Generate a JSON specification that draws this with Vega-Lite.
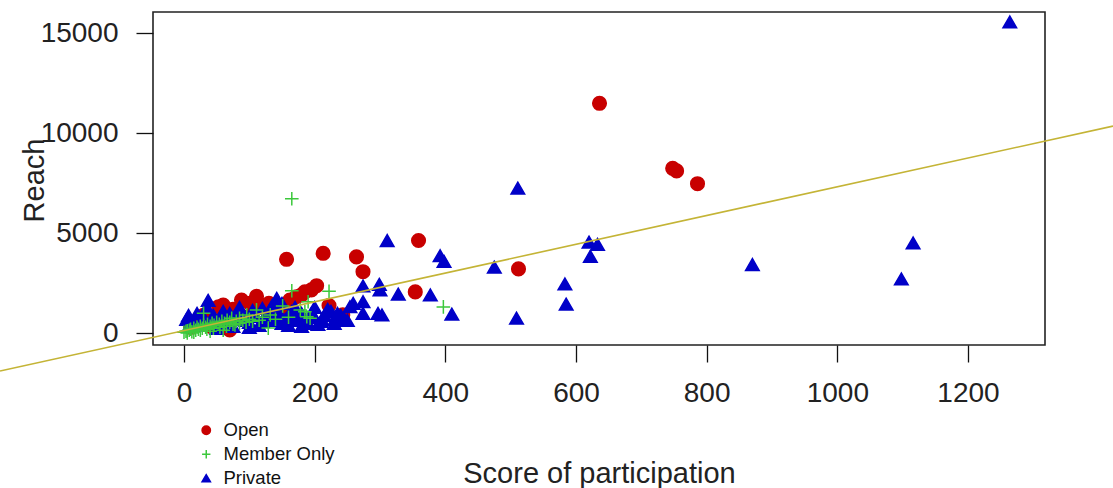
{
  "$schema": "https://vega.github.io/schema/vega-lite/v6.json",
  "autosize": {"type": "none"},
  "width": 892,
  "height": 333,
  "padding": {"left": 153, "top": 12, "right": 68, "bottom": 143},
  "background": "white",
  "config": {
    "view": {"stroke": "#222", "strokeWidth": 1.6},
    "font": "Liberation Sans",
    "axis": {
      "grid": false, "domain": false, "tickColor": "#111", "tickWidth": 1.3, "tickSize": 17,
      "labelFont": "Liberation Sans", "labelFontSize": 28, "labelColor": "#222", "labelPadding": 17,
      "titleFont": "Liberation Sans", "titleFontSize": 29, "titleFontWeight": "normal", "titleColor": "#222"
    },
    "legend": {
      "labelFont": "Liberation Sans", "labelFontSize": 18.5, "labelColor": "#111",
      "padding": 0, "rowPadding": 5, "labelOffset": 8, "symbolStrokeWidth": 1.5, "symbolSize": 70, "symbolOpacity": 1
    }
  },
  "datasets": {
    "pts": [
      {"Type": "Open", "score": 636, "reach": 11500},
      {"Type": "Open", "score": 748, "reach": 8250},
      {"Type": "Open", "score": 754, "reach": 8120},
      {"Type": "Open", "score": 786, "reach": 7480},
      {"Type": "Open", "score": 359, "reach": 4640},
      {"Type": "Open", "score": 213, "reach": 4000},
      {"Type": "Open", "score": 157, "reach": 3700},
      {"Type": "Open", "score": 264, "reach": 3820},
      {"Type": "Open", "score": 274, "reach": 3080},
      {"Type": "Open", "score": 512, "reach": 3220},
      {"Type": "Open", "score": 354, "reach": 2070},
      {"Type": "Open", "score": 203, "reach": 2380},
      {"Type": "Open", "score": 195, "reach": 2170},
      {"Type": "Open", "score": 185, "reach": 2070},
      {"Type": "Open", "score": 180, "reach": 1920},
      {"Type": "Open", "score": 172, "reach": 1830},
      {"Type": "Open", "score": 162, "reach": 1660},
      {"Type": "Open", "score": 222, "reach": 1390},
      {"Type": "Open", "score": 243, "reach": 920},
      {"Type": "Open", "score": 111, "reach": 1850},
      {"Type": "Open", "score": 101, "reach": 1500},
      {"Type": "Open", "score": 88, "reach": 1660},
      {"Type": "Open", "score": 60, "reach": 1410},
      {"Type": "Open", "score": 53, "reach": 1330},
      {"Type": "Open", "score": 130, "reach": 1500},
      {"Type": "Open", "score": 145, "reach": 1300},
      {"Type": "Open", "score": 120, "reach": 1400},
      {"Type": "Open", "score": 75, "reach": 1200},
      {"Type": "Open", "score": 42, "reach": 330},
      {"Type": "Open", "score": 70, "reach": 170},
      {"Type": "Open", "score": 30, "reach": 900},
      {"Type": "Open", "score": 20, "reach": 600},
      {"Type": "Open", "score": 10, "reach": 300},
      {"Type": "Open", "score": 95, "reach": 800},
      {"Type": "Open", "score": 150, "reach": 1100},
      {"Type": "Open", "score": 45, "reach": 500},
      {"Type": "Private", "score": 1264, "reach": 15570},
      {"Type": "Private", "score": 511, "reach": 7260},
      {"Type": "Private", "score": 311, "reach": 4640},
      {"Type": "Private", "score": 392, "reach": 3880},
      {"Type": "Private", "score": 398, "reach": 3600},
      {"Type": "Private", "score": 475, "reach": 3310},
      {"Type": "Private", "score": 620, "reach": 4560},
      {"Type": "Private", "score": 633, "reach": 4450},
      {"Type": "Private", "score": 622, "reach": 3850},
      {"Type": "Private", "score": 870, "reach": 3440},
      {"Type": "Private", "score": 1116, "reach": 4520},
      {"Type": "Private", "score": 1098, "reach": 2720},
      {"Type": "Private", "score": 583, "reach": 2470},
      {"Type": "Private", "score": 585, "reach": 1460},
      {"Type": "Private", "score": 509, "reach": 760},
      {"Type": "Private", "score": 410, "reach": 960},
      {"Type": "Private", "score": 377, "reach": 1920},
      {"Type": "Private", "score": 328, "reach": 1960},
      {"Type": "Private", "score": 299, "reach": 2450},
      {"Type": "Private", "score": 274, "reach": 2370},
      {"Type": "Private", "score": 300, "reach": 2170},
      {"Type": "Private", "score": 274, "reach": 1580},
      {"Type": "Private", "score": 259, "reach": 1500},
      {"Type": "Private", "score": 254, "reach": 1330},
      {"Type": "Private", "score": 274, "reach": 1000},
      {"Type": "Private", "score": 297, "reach": 1000},
      {"Type": "Private", "score": 303, "reach": 920},
      {"Type": "Private", "score": 231, "reach": 700},
      {"Type": "Private", "score": 211, "reach": 700},
      {"Type": "Private", "score": 37, "reach": 1650},
      {"Type": "Private", "score": 7, "reach": 900},
      {"Type": "Private", "score": 142, "reach": 1750},
      {"Type": "Private", "score": 4, "reach": 700},
      {"Type": "Private", "score": 15, "reach": 400},
      {"Type": "Private", "score": 25, "reach": 600},
      {"Type": "Private", "score": 40, "reach": 500},
      {"Type": "Private", "score": 55, "reach": 800},
      {"Type": "Private", "score": 65, "reach": 450},
      {"Type": "Private", "score": 80, "reach": 700},
      {"Type": "Private", "score": 90, "reach": 1000},
      {"Type": "Private", "score": 100, "reach": 550},
      {"Type": "Private", "score": 110, "reach": 850},
      {"Type": "Private", "score": 120, "reach": 600},
      {"Type": "Private", "score": 130, "reach": 1100},
      {"Type": "Private", "score": 140, "reach": 800},
      {"Type": "Private", "score": 150, "reach": 500},
      {"Type": "Private", "score": 160, "reach": 900},
      {"Type": "Private", "score": 170, "reach": 650},
      {"Type": "Private", "score": 180, "reach": 1000},
      {"Type": "Private", "score": 190, "reach": 500},
      {"Type": "Private", "score": 200, "reach": 800},
      {"Type": "Private", "score": 210, "reach": 600},
      {"Type": "Private", "score": 225, "reach": 1100},
      {"Type": "Private", "score": 240, "reach": 900},
      {"Type": "Private", "score": 250, "reach": 650},
      {"Type": "Private", "score": 170, "reach": 1300},
      {"Type": "Private", "score": 120, "reach": 1250},
      {"Type": "Private", "score": 60, "reach": 1100},
      {"Type": "Private", "score": 200, "reach": 1300},
      {"Type": "Private", "score": 160, "reach": 400},
      {"Type": "Private", "score": 100, "reach": 300},
      {"Type": "Private", "score": 50, "reach": 250},
      {"Type": "Private", "score": 180, "reach": 350},
      {"Type": "Private", "score": 230, "reach": 500},
      {"Type": "Private", "score": 20, "reach": 1000},
      {"Type": "Private", "score": 35, "reach": 1300},
      {"Type": "Private", "score": 45, "reach": 900},
      {"Type": "Private", "score": 70, "reach": 1000},
      {"Type": "Private", "score": 85, "reach": 1300},
      {"Type": "Private", "score": 95, "reach": 650},
      {"Type": "Private", "score": 105, "reach": 1150},
      {"Type": "Private", "score": 115, "reach": 400},
      {"Type": "Private", "score": 135, "reach": 650},
      {"Type": "Private", "score": 145, "reach": 1050},
      {"Type": "Private", "score": 155, "reach": 700},
      {"Type": "Private", "score": 165, "reach": 1100},
      {"Type": "Private", "score": 175, "reach": 800},
      {"Type": "Private", "score": 185, "reach": 700},
      {"Type": "Private", "score": 195, "reach": 1000},
      {"Type": "Private", "score": 205, "reach": 450},
      {"Type": "Private", "score": 215, "reach": 900},
      {"Type": "Private", "score": 220, "reach": 1200},
      {"Type": "Private", "score": 235, "reach": 1000},
      {"Type": "Private", "score": 245, "reach": 750},
      {"Type": "Private", "score": 10, "reach": 500},
      {"Type": "Private", "score": 30, "reach": 800},
      {"Type": "Private", "score": 75, "reach": 350},
      {"Type": "Private", "score": 125, "reach": 900},
      {"Type": "Private", "score": 135, "reach": 1400},
      {"Type": "Private", "score": 150, "reach": 1500},
      {"Type": "Member Only", "score": 165, "reach": 6730},
      {"Type": "Member Only", "score": 397, "reach": 1320},
      {"Type": "Member Only", "score": 165, "reach": 2130},
      {"Type": "Member Only", "score": 222, "reach": 2100},
      {"Type": "Member Only", "score": 151, "reach": 1370},
      {"Type": "Member Only", "score": 132, "reach": 920},
      {"Type": "Member Only", "score": 129, "reach": 260},
      {"Type": "Member Only", "score": 178, "reach": 1170},
      {"Type": "Member Only", "score": 190, "reach": 1580},
      {"Type": "Member Only", "score": 185, "reach": 1080},
      {"Type": "Member Only", "score": 188, "reach": 830},
      {"Type": "Member Only", "score": 193, "reach": 750},
      {"Type": "Member Only", "score": 111, "reach": 1170},
      {"Type": "Member Only", "score": 96, "reach": 920},
      {"Type": "Member Only", "score": 78, "reach": 420},
      {"Type": "Member Only", "score": 73, "reach": 750},
      {"Type": "Member Only", "score": 30, "reach": 1000},
      {"Type": "Member Only", "score": 0, "reach": 50},
      {"Type": "Member Only", "score": 3, "reach": 100},
      {"Type": "Member Only", "score": 5, "reach": 20},
      {"Type": "Member Only", "score": 8, "reach": 150},
      {"Type": "Member Only", "score": 10, "reach": 200},
      {"Type": "Member Only", "score": 12, "reach": 80},
      {"Type": "Member Only", "score": 15, "reach": 250},
      {"Type": "Member Only", "score": 18, "reach": 150},
      {"Type": "Member Only", "score": 20, "reach": 300},
      {"Type": "Member Only", "score": 22, "reach": 200},
      {"Type": "Member Only", "score": 25, "reach": 350},
      {"Type": "Member Only", "score": 28, "reach": 250},
      {"Type": "Member Only", "score": 30, "reach": 400},
      {"Type": "Member Only", "score": 33, "reach": 300},
      {"Type": "Member Only", "score": 36, "reach": 450},
      {"Type": "Member Only", "score": 40, "reach": 350},
      {"Type": "Member Only", "score": 43, "reach": 500},
      {"Type": "Member Only", "score": 46, "reach": 400},
      {"Type": "Member Only", "score": 50, "reach": 550},
      {"Type": "Member Only", "score": 54, "reach": 450},
      {"Type": "Member Only", "score": 58, "reach": 600},
      {"Type": "Member Only", "score": 62, "reach": 500},
      {"Type": "Member Only", "score": 66, "reach": 650},
      {"Type": "Member Only", "score": 70, "reach": 550},
      {"Type": "Member Only", "score": 80, "reach": 600},
      {"Type": "Member Only", "score": 85, "reach": 750},
      {"Type": "Member Only", "score": 90, "reach": 650},
      {"Type": "Member Only", "score": 100, "reach": 700},
      {"Type": "Member Only", "score": 5, "reach": 120},
      {"Type": "Member Only", "score": 15, "reach": 60},
      {"Type": "Member Only", "score": 25, "reach": 150},
      {"Type": "Member Only", "score": 35, "reach": 200},
      {"Type": "Member Only", "score": 45, "reach": 250},
      {"Type": "Member Only", "score": 55, "reach": 300},
      {"Type": "Member Only", "score": 65, "reach": 350},
      {"Type": "Member Only", "score": 75, "reach": 450},
      {"Type": "Member Only", "score": 85, "reach": 500},
      {"Type": "Member Only", "score": 95, "reach": 550},
      {"Type": "Member Only", "score": 105, "reach": 600},
      {"Type": "Member Only", "score": 115, "reach": 650},
      {"Type": "Member Only", "score": 120, "reach": 800},
      {"Type": "Member Only", "score": 140, "reach": 700},
      {"Type": "Member Only", "score": 160, "reach": 800},
      {"Type": "Member Only", "score": 60, "reach": 150},
      {"Type": "Member Only", "score": 40, "reach": 100}
    ],
    "fit": [
      {"x1": -281.6, "y1": -1889, "x2": 1422, "y2": 10360}
    ]
  },
  "layer": [
    {
      "data": {"name": "pts"},
      "mark": {"type": "point", "filled": true, "strokeWidth": 1.5, "opacity": 1, "size": 185},
      "encoding": {
        "x": {
          "field": "score", "type": "quantitative",
          "scale": {"domain": [-47.45, 1317.9], "nice": false, "zero": false},
          "axis": {"values": [0, 200, 400, 600, 800, 1000, 1200], "format": "d", "title": "Score of participation",
                   "titleX": 446, "titleY": 137, "titleBaseline": "alphabetic", "titleAnchor": "middle"}
        },
        "y": {
          "field": "reach", "type": "quantitative",
          "scale": {"domain": [-585, 16065], "nice": false, "zero": false},
          "axis": {"values": [0, 5000, 10000, 15000], "format": "d", "title": "Reach", "labelPadding": 18,
                   "titleX": -110, "titleY": 168, "titleAngle": -90, "titleBaseline": "alphabetic", "titleAlign": "center"}
        },
        "fill": {
          "field": "Type", "type": "nominal",
          "scale": {"domain": ["Open", "Member Only", "Private"], "range": ["#c80000", "#3cc83c", "#0000c8"]},
          "legend": {"title": null, "orient": "none", "legendX": 44, "legendY": 409}
        },
        "stroke": {
          "field": "Type", "type": "nominal",
          "scale": {"domain": ["Open", "Member Only", "Private"], "range": ["#c80000", "#3cc83c", "#0000c8"]},
          "legend": {"title": null, "orient": "none", "legendX": 44, "legendY": 409}
        },
        "shape": {
          "field": "Type", "type": "nominal",
          "scale": {"domain": ["Open", "Member Only", "Private"], "range": ["circle", "M-1,0H1M0,-1V1", "triangle-up"]},
          "legend": {"title": null, "orient": "none", "legendX": 44, "legendY": 409}
        }
      }
    },
    {
      "data": {"name": "fit"},
      "mark": {"type": "rule", "color": "#c4b436", "strokeWidth": 1.6, "clip": false},
      "encoding": {
        "x": {"field": "x1", "type": "quantitative"},
        "y": {"field": "y1", "type": "quantitative"},
        "x2": {"field": "x2"},
        "y2": {"field": "y2"}
      }
    }
  ]
}
